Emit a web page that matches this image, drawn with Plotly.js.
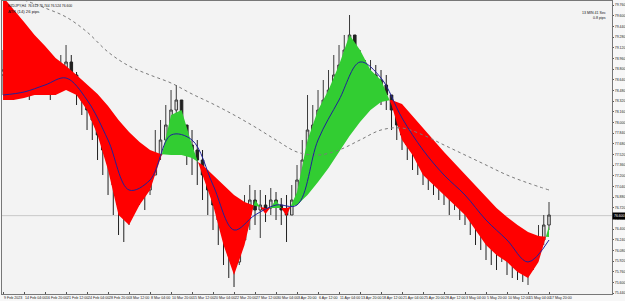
<!DOCTYPE html>
<html>
<head>
<meta charset="utf-8">
<script src="https://cdn.plot.ly/plotly-3.0.1.min.js"></script>
<style>html,body{margin:0;padding:0;background:#f7f7f7;}#chart{width:625px;height:301px;}</style>
</head>
<body>
<div id="chart"></div>
<script>
// ---- data (H4 candles, grouped 4 bars per point) ----
const barIndex = Array.from({length: 105}, (_, i) => i);
const openP = [78.71,78.785,78.635,78.56,78.71,78.635,78.56,78.665,78.785,78.71,78.56,78.635,78.785,78.905,78.71,78.485,78.335,78.185,78.035,77.81,77.585,77.435,77.06,76.76,76.61,76.91,77.285,77.06,76.985,77.21,77.51,77.735,77.96,78.185,78.335,77.96,77.66,77.585,77.435,77.21,76.985,76.76,76.535,76.31,76.01,75.905,76.235,76.61,76.835,76.685,76.76,76.715,76.835,76.76,76.685,76.61,76.835,77.135,77.435,77.885,77.96,78.185,78.335,78.485,78.71,78.86,79.085,79.31,79.01,78.785,78.635,78.71,78.635,78.56,78.41,78.185,77.96,77.81,77.66,77.585,77.435,77.36,77.285,77.21,77.135,77.06,76.91,76.985,76.835,76.76,76.685,76.535,76.46,76.31,76.235,76.16,76.235,76.085,76.01,75.935,75.86,75.905,76.085,76.235,76.46];
const highP = [79.085,78.935,78.86,78.935,78.86,78.785,78.935,79.16,79.01,78.785,78.935,79.01,79.16,79.01,78.755,78.56,78.485,78.335,78.185,77.96,77.735,77.585,77.135,77.06,77.435,77.585,77.435,77.285,77.51,77.885,78.035,78.26,78.485,78.56,78.335,77.96,77.885,77.735,77.585,77.285,77.06,76.91,76.685,76.535,76.31,76.61,76.91,77.06,76.985,76.985,76.91,77.015,76.955,76.865,76.91,77.06,77.36,77.735,78.41,78.26,78.485,78.635,78.785,79.01,79.16,79.31,79.61,79.31,79.085,78.935,78.935,78.86,78.785,78.71,78.41,78.26,78.11,77.96,77.81,77.735,77.66,77.585,77.51,77.435,77.36,77.21,77.21,77.135,77.06,76.91,76.835,76.76,76.61,76.535,76.46,76.46,76.385,76.31,76.235,76.16,76.115,76.31,76.46,76.61,76.805];
const lowP = [78.41,78.335,78.335,78.41,78.41,78.335,78.41,78.515,78.41,78.335,78.41,78.515,78.635,78.455,78.26,78.11,77.885,77.735,77.435,77.21,76.91,76.61,76.31,76.205,76.46,76.835,76.76,76.685,76.91,77.21,77.435,77.66,77.81,77.885,77.66,77.36,77.21,77.06,76.835,76.61,76.385,76.16,75.86,75.665,75.53,75.86,76.235,76.385,76.46,76.265,76.505,76.61,76.535,76.46,76.205,76.61,76.835,77.135,77.435,77.66,77.885,77.96,78.185,78.41,78.56,78.71,78.935,78.635,78.485,78.335,78.41,78.335,78.26,78.185,77.885,77.735,77.585,77.435,77.285,77.21,77.06,76.985,76.91,76.835,76.76,76.61,76.685,76.535,76.46,76.31,76.16,76.085,75.935,75.86,75.785,75.905,75.71,75.665,75.635,75.605,75.56,75.785,75.935,76.16,76.385];
const closeP = [78.785,78.635,78.56,78.71,78.635,78.56,78.665,78.785,78.71,78.56,78.635,78.785,78.905,78.71,78.485,78.335,78.185,78.035,77.81,77.585,77.435,77.06,76.76,76.61,76.91,77.285,77.06,76.985,77.21,77.51,77.735,77.96,78.185,78.335,77.96,77.66,77.585,77.435,77.21,76.985,76.76,76.535,76.31,76.01,75.905,76.235,76.61,76.835,76.685,76.76,76.715,76.835,76.76,76.685,76.61,76.835,77.135,77.435,77.885,77.96,78.185,78.335,78.485,78.71,78.86,79.085,79.31,79.01,78.785,78.635,78.71,78.635,78.56,78.41,78.185,77.96,77.81,77.66,77.585,77.435,77.36,77.285,77.21,77.135,77.06,76.91,76.985,76.835,76.76,76.685,76.535,76.46,76.31,76.235,76.16,76.235,76.085,76.01,75.935,75.86,75.905,76.085,76.235,76.46,76.61];

// cloud lines (every 2nd point)
const cloudIndex = Array.from({length: 53}, (_, k) => 2 * k);
const fastMA = [78.335,78.335,78.365,78.41,78.41,78.41,78.485,78.41,78.185,77.81,77.285,76.61,76.46,76.76,76.985,77.435,78.11,78.185,77.66,77.21,76.76,76.16,75.71,76.16,76.835,76.625,76.835,76.595,76.955,77.735,78.185,78.485,78.86,79.31,79.085,78.785,78.635,78.26,77.735,77.51,77.21,77.06,76.91,76.76,76.61,76.385,76.16,76.01,75.905,75.755,75.665,75.905,76.445];
const slowMA = [79.88,79.685,79.505,79.31,79.145,78.965,78.845,78.71,78.575,78.425,78.245,78.035,77.855,77.705,77.585,77.525,77.51,77.51,77.465,77.36,77.21,77.06,76.91,76.805,76.745,76.715,76.715,76.715,76.76,76.91,77.105,77.315,77.555,77.795,78.005,78.185,78.305,78.335,78.275,78.11,77.915,77.735,77.555,77.375,77.21,77.045,76.88,76.715,76.58,76.46,76.355,76.295,76.28];

// blue moving average (every 4th point)
const blueIndex = Array.from({length: 27}, (_, k) => 4 * k);
const blueMA = [78.41,78.455,78.56,78.665,78.335,77.735,76.985,77.135,77.81,77.735,77.06,76.385,76.61,76.76,76.76,77.735,78.335,78.905,78.665,78.065,77.585,77.21,76.91,76.535,76.235,75.905,76.235];

// dotted long moving average
const dotIndex = Array.from({length: 26}, (_, k) => 4 + 4 * k);
const dotMA = [79.835,79.715,79.58,79.355,79.055,78.845,78.71,78.59,78.425,78.275,78.11,77.93,77.735,77.555,77.51,77.585,77.735,77.885,77.915,77.81,77.66,77.51,77.36,77.21,77.09,76.985];

const tickIndex = Array.from({length: 27}, (_, k) => 4 * k);
const tickLabels = ["9 Feb 2023","14 Feb 04:00","16 Feb 20:00","21 Feb 12:00","24 Feb 04:00","28 Feb 20:00","3 Mar 12:00","8 Mar 04:00","10 Mar 20:00","15 Mar 12:00","20 Mar 04:00","22 Mar 20:00","27 Mar 12:00","30 Mar 04:00","3 Apr 20:00","6 Apr 12:00","11 Apr 04:00","13 Apr 20:00","18 Apr 12:00","21 Apr 04:00","25 Apr 20:00","28 Apr 12:00","3 May 04:00","5 May 20:00","10 May 12:00","15 May 04:00","17 May 20:00"];
const priceTicks = Array.from({length: 28}, (_, k) => +(75.44 + 0.16 * k).toFixed(2));
const currentPrice = 76.60;
const headerText = "NZDJPY,H4  76.612 76.744 76.524 76.600";
const atrText = "ATR (14) 26 pips";
const timerText = "13 MIN 41 Sec";
const spreadText = "0.8 pips";

// ---- build cloud polygons ----
const RED = '#ff0000', GREEN = '#32cd32';
function cloudTraces() {
  const out = [];
  const d = k => fastMA[k] - slowMA[k];
  let sign = Math.sign(d(0)) || 1;
  let xs = [cloudIndex[0]], fy = [fastMA[0]], sy = [slowMA[0]];
  const flush = () => {
    out.push({
      type: 'scatter', mode: 'lines', x: xs.concat(xs.slice().reverse()),
      y: fy.concat(sy.slice().reverse()), fill: 'toself',
      fillcolor: sign > 0 ? GREEN : RED, line: {width: 0, color: sign > 0 ? GREEN : RED},
      hoverinfo: 'skip', showlegend: false
    });
  };
  for (let k = 1; k < cloudIndex.length; k++) {
    const s = Math.sign(d(k));
    if (s === sign || s === 0) {
      xs.push(cloudIndex[k]); fy.push(fastMA[k]); sy.push(slowMA[k]);
    } else {
      const t = d(k - 1) / (d(k - 1) - d(k));
      const xc = cloudIndex[k - 1] + t * (cloudIndex[k] - cloudIndex[k - 1]);
      const yc = fastMA[k - 1] + t * (fastMA[k] - fastMA[k - 1]);
      xs.push(xc); fy.push(yc); sy.push(yc);
      flush();
      sign = s;
      xs = [xc, cloudIndex[k]]; fy = [yc, fastMA[k]]; sy = [yc, slowMA[k]];
    }
  }
  flush();
  return out;
}

const traces = cloudTraces();
traces.push({
  type: 'scatter', mode: 'lines', x: dotIndex, y: dotMA,
  line: {color: '#7a7a7a', width: 1, dash: 'dot', shape: 'spline'},
  hoverinfo: 'skip', showlegend: false
});
traces.push({
  type: 'candlestick', x: barIndex, open: openP, high: highP, low: lowP, close: closeP,
  increasing: {line: {color: '#3a3a3a', width: 1}, fillcolor: '#d8d8d8'},
  decreasing: {line: {color: '#202020', width: 1}, fillcolor: '#202020'},
  whiskerwidth: 0, hoverinfo: 'skip', showlegend: false
});
traces.push({
  type: 'scatter', mode: 'lines', x: blueIndex, y: blueMA,
  line: {color: '#20209a', width: 1, shape: 'spline'},
  hoverinfo: 'skip', showlegend: false
});

const FAM = 'Liberation Sans, Arial, sans-serif';
const xFont = {family: FAM, size: 3.6, color: '#222'};
const yFont = {family: FAM, size: 3.5, color: '#222'};
const layout = {
  width: 625, height: 301,
  margin: {l: 2, r: 13, t: 1, b: 7},
  paper_bgcolor: '#f7f7f7', plot_bgcolor: '#f3f3f3',
  showlegend: false,
  xaxis: {
    range: [-0.2, 116], showgrid: false, zeroline: false,
    rangeslider: {visible: false},
    tickmode: 'array', tickvals: tickIndex, ticktext: tickLabels, tickangle: 0,
    ticks: 'inside', ticklen: 2, tickcolor: '#555', tickfont: xFont,
    ticklabelposition: 'outside right', ticklabelstandoff: 0,
    showline: true, linecolor: '#777', linewidth: 1, mirror: true
  },
  yaxis: {
    range: [75.425, 79.82], side: 'right', showgrid: false, zeroline: false,
    tickmode: 'array', tickvals: priceTicks, tickformat: '.3f',
    ticks: 'outside', ticklen: 1, tickcolor: '#555', tickfont: yFont,
    ticklabelstandoff: 0,
    showline: true, linecolor: '#777', linewidth: 1, mirror: true
  },
  shapes: [{
    type: 'line', xref: 'paper', x0: 0, x1: 1, yref: 'y', y0: currentPrice, y1: currentPrice,
    line: {color: '#c8c8c8', width: 1}, layer: 'below'
  }],
  annotations: [
    {xref: 'paper', x: 1, yref: 'y', y: currentPrice, xanchor: 'left', yanchor: 'middle',
     text: currentPrice.toFixed(3), showarrow: false, bgcolor: '#000', borderpad: 1, xshift: 0,
     font: {family: FAM, size: 3.5, color: '#fff'}},
    {xref: 'paper', yref: 'paper', x: 0.006, y: 1, xanchor: 'left', yanchor: 'top', yshift: -1,
     text: headerText, showarrow: false, font: {family: FAM, size: 3.4, color: '#111'}},
    {xref: 'paper', yref: 'paper', x: 0.006, y: 1, xanchor: 'left', yanchor: 'top', yshift: -6,
     text: atrText, showarrow: false, font: {family: FAM, size: 4.2, color: '#111'}},
    {xref: 'paper', yref: 'paper', x: 0.9935, y: 1, xanchor: 'right', yanchor: 'top', yshift: -8,
     text: timerText, showarrow: false, font: {family: FAM, size: 3.6, color: '#111'}},
    {xref: 'paper', yref: 'paper', x: 0.9935, y: 1, xanchor: 'right', yanchor: 'top', yshift: -13,
     text: spreadText, showarrow: false, font: {family: FAM, size: 3.6, color: '#111'}}
  ]
};
Plotly.newPlot('chart', traces, layout, {staticPlot: true, displayModeBar: false});
</script>
</body>
</html>
